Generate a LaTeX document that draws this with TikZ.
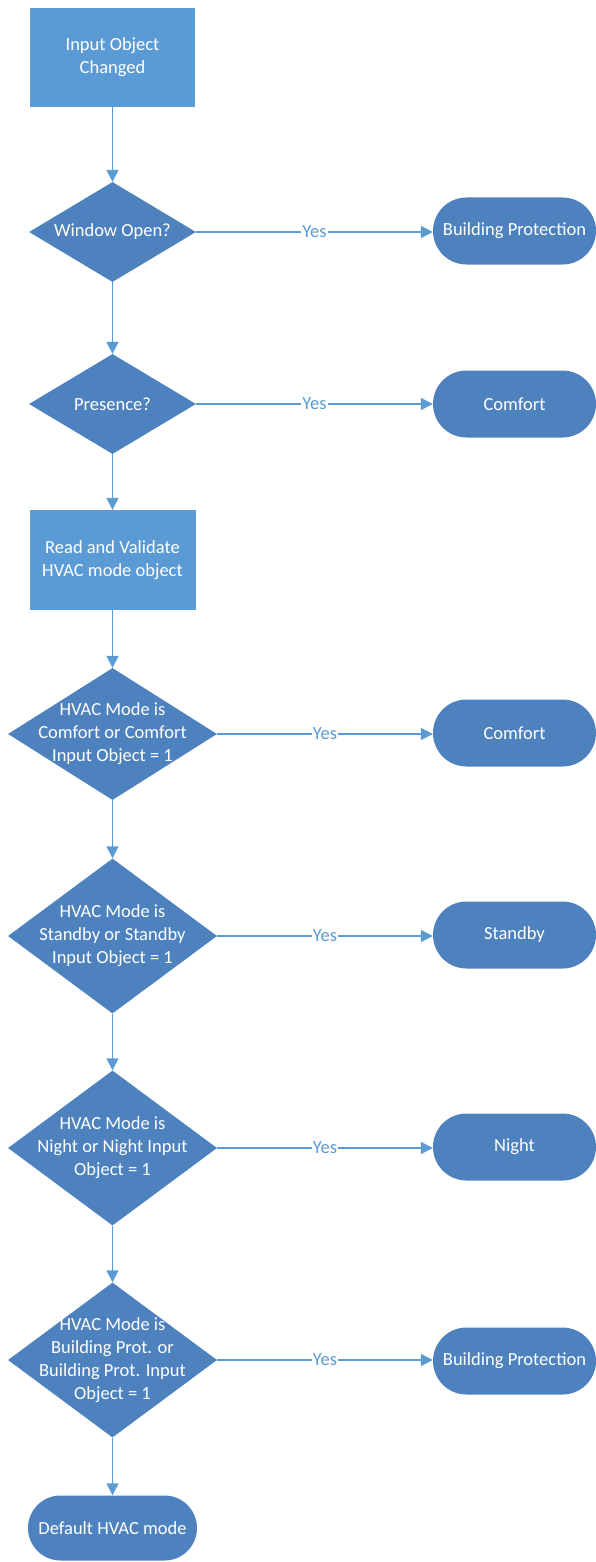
\documentclass[tikz,border=0pt]{standalone}
\usepackage{fontspec}
\setmainfont{Carlito}
\usetikzlibrary{arrows.meta, shapes.geometric, shapes.misc}
\definecolor{procblue}{HTML}{5B9BD5}
\definecolor{decblue}{HTML}{4E82BE}
\definecolor{lineblue}{HTML}{5B9BD5}

\begin{document}
\begin{tikzpicture}[x=1pt, y=-1pt,
  font=\fontsize{18.5}{23}\selectfont,
  process/.style={rectangle, fill=procblue, text=white, align=center, minimum width=165pt, minimum height=99pt, inner sep=0pt},
  decision/.style={diamond, fill=decblue, inner sep=0pt, minimum width=167pt, minimum height=100pt},
  terminal/.style={rounded rectangle, fill=decblue, text=white, minimum width=163pt, minimum height=67pt, inner sep=0pt},
  flow/.style={draw=lineblue, line width=1.4pt, -{Triangle[length=12pt,width=12pt]}},
  yes/.style={fill=white, text=lineblue, inner sep=1pt, pos=.5}]
\useasboundingbox (0,0) rectangle (596,1562);

\node[process] (start) at (112.5,57.5) {Input Object\\Changed};
\node[decision, label={[text=white]center:Window Open?}] (win) at (112.5,232) {};
\node[terminal] (protA) at (514.5,231) {Building Protection};
\node[decision, label={[text=white]center:Presence?}] (pres) at (112.5,404) {};
\node[terminal] (comfA) at (514.5,404) {Comfort};
\node[process, minimum width=166pt, minimum height=100pt] (read) at (112.5,560) {Read and Validate\\HVAC mode object};
\node[decision, minimum width=209pt, minimum height=132pt, label={[text=white, align=center]center:{HVAC Mode is\\Comfort or Comfort\\Input Object = 1}}] (isComf) at (112.5,734) {};
\node[terminal] (comfB) at (514.5,733) {Comfort};
\node[decision, minimum width=209pt, minimum height=155pt, label={[text=white, align=center]center:{HVAC Mode is\\Standby or Standby\\Input Object = 1}}] (isStby) at (112.5,936) {};
\node[terminal] (stby) at (514.5,935) {Standby};
\node[decision, minimum width=209pt, minimum height=155pt, label={[text=white, align=center]center:{HVAC Mode is\\Night or Night Input\\Object = 1}}] (isNight) at (112.5,1148) {};
\node[terminal] (night) at (514.5,1147) {Night};
\node[decision, minimum width=209pt, minimum height=155pt, label={[text=white, align=center]center:{HVAC Mode is\\Building Prot. or\\Building Prot. Input\\Object = 1}}] (isProt) at (112.5,1360) {};
\node[terminal] (protB) at (514.5,1361) {Building Protection};
\node[terminal, minimum width=169pt, minimum height=65pt] (dflt) at (112.5,1528) {Default HVAC mode};

% main line
\draw[flow] (start) -- (win);
\draw[flow] (win) -- (pres);
\draw[flow] (pres) -- (read);
\draw[flow] (read) -- (isComf);
\draw[flow] (isComf) -- (isStby);
\draw[flow] (isStby) -- (isNight);
\draw[flow] (isNight) -- (isProt);
\draw[flow] (isProt) -- (dflt);

% yes branches
\draw[flow] (win.east) -- (win.east -| protA.west) node[yes]{Yes};
\draw[flow] (pres.east) -- (pres.east -| comfA.west) node[yes]{Yes};
\draw[flow] (isComf.east) -- (isComf.east -| comfB.west) node[yes]{Yes};
\draw[flow] (isStby.east) -- (isStby.east -| stby.west) node[yes]{Yes};
\draw[flow] (isNight.east) -- (isNight.east -| night.west) node[yes]{Yes};
\draw[flow] (isProt.east) -- (isProt.east -| protB.west) node[yes]{Yes};
\end{tikzpicture}
\end{document}
